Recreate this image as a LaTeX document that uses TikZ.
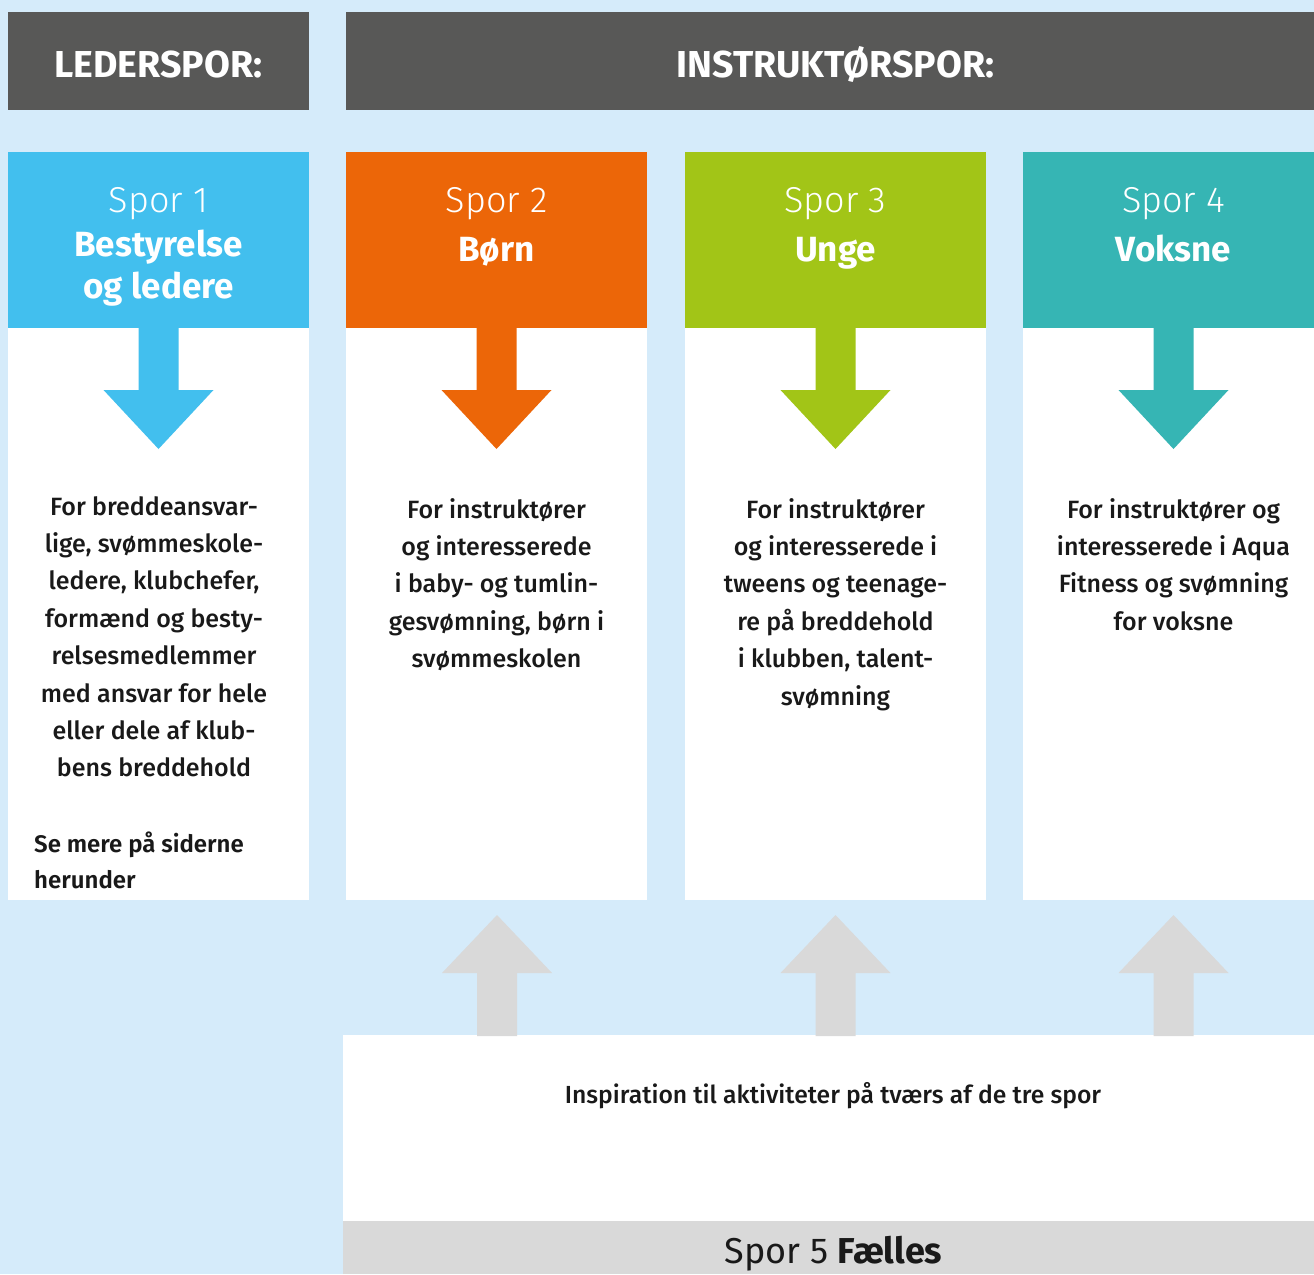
\documentclass[tikz,border=0pt]{standalone}
\usepackage{fontspec}
\setmainfont{Fira Sans}
\newfontfamily\flight{Fira Sans Light}
\newfontfamily\fmed{Fira Sans Medium}
\newfontfamily\fsemi{Fira Sans SemiBold}
\newfontfamily\fbold{Fira Sans Bold}
\definecolor{bgblue}{HTML}{D5EBFA}
\definecolor{darkbar}{HTML}{585857}
\definecolor{c1}{HTML}{42BFEE}
\definecolor{c2}{HTML}{EC6608}
\definecolor{c3}{HTML}{A2C517}
\definecolor{c4}{HTML}{36B5B4}
\definecolor{arrgray}{HTML}{D9D9D9}
\tikzset{
  bar/.style={text=white,anchor=base,font=\fbold\fontsize{37.5}{40}\selectfont},
  sporlbl/.style={text=white,anchor=base,font=\flight\fontsize{36}{40}\selectfont},
  sporname/.style={text=white,anchor=base,font=\fbold\fontsize{35}{40}\selectfont},
  bodyline/.style={text=black!90,anchor=base,inner sep=0pt,font=\fmed\fontsize{25}{30}\selectfont},
  seemore/.style={text=black!90,anchor=base west,inner sep=0pt,font=\fsemi\fontsize{24}{30}\selectfont},
}
\begin{document}
\begin{tikzpicture}[x=1pt,y=-1pt]
\fill[bgblue] (0,0) rectangle (1314,1274);
\useasboundingbox (0,0) rectangle (1314,1274);
% top bars
\fill[darkbar] (8,12) rectangle (309,110);
\fill[darkbar] (346,12) rectangle (1314,110);
\node[bar] (lederspor) at (158.5,77) {LEDERSPOR:};
\node[bar] (instrspor) at (835.5,77) {INSTRUKTØRSPOR:};
% columns
\foreach \x/\c [count=\i] in {8/c1,346/c2,685/c3,1023/c4}{
  \fill[white] (\x,328) rectangle ({min(\x+301,1314)},900);
  \fill[\c] (\x,152) rectangle ({min(\x+301,1314)},328);
  \pgfmathsetmacro\cx{\x+150.5}
  \fill[\c] (\cx-20,327) -- (\cx+20,327) -- (\cx+20,390) -- (\cx+55,390) -- (\cx,449)
     -- (\cx-55,390) -- (\cx-20,390) -- cycle;
  \node[sporlbl] (spor\i) at (\cx,212) {Spor \i};
}
\node[sporname] (n1a) at (158.5,256) {Bestyrelse};
\node[sporname] (n1b) at (158.5,298) {og ledere};
\node[sporname] (n2) at (496.5,261) {Børn};
\node[sporname] (n3) at (835.5,261) {Unge};
\node[sporname] (n4) at (1173.5,261) {Voksne};
% body texts
\foreach \t [count=\i] in {{For breddeansvar-},{lige, svømmeskole-},{ledere, klubchefer,},{formænd og besty-},{relsesmedlemmer},{med ansvar for hele},{eller dele af klub-},{bens breddehold}}{
  \node[bodyline] (b1l\i) at (154,{515+37.4*(\i-1)}) {\t};
}
\foreach \t [count=\i] in {{For instruktører},{og interesserede},{i baby- og tumlin-},{gesvømning, børn i},{svømmeskolen}}{
  \node[bodyline] (b2l\i) at (496.5,{518+37.4*(\i-1)}) {\t};
}
\foreach \t [count=\i] in {{For instruktører},{og interesserede i},{tweens og teenage-},{re på breddehold},{i klubben, talent-},{svømning}}{
  \node[bodyline] (b3l\i) at (835.5,{518+37.4*(\i-1)}) {\t};
}
\foreach \t [count=\i] in {{For instruktører og},{interesserede i Aqua},{Fitness og svømning},{for voksne}}{
  \node[bodyline] (b4l\i) at (1173.5,{518+37.4*(\i-1)}) {\t};
}
\node[seemore] (se1) at (34,852) {Se mere på siderne};
\node[seemore] (se2) at (34,888) {herunder};
% bottom panel
\fill[white] (343,1035) rectangle (1314,1221);
\fill[arrgray] (343,1221) rectangle (1314,1274);
\foreach \cx in {497,835.5,1173.5}{
  \fill[arrgray] (\cx-20,1036) -- (\cx-20,973) -- (\cx-55,973) -- (\cx,915) -- (\cx+55,973)
     -- (\cx+20,973) -- (\cx+20,1036) -- cycle;
}
\node[bodyline,font=\fmed\fontsize{24.7}{30}\selectfont] (insp) at (833,1103) {Inspiration til aktiviteter på tværs af de tre spor};
\node[anchor=base,inner sep=0pt,text=black!90,font=\fontsize{36}{40}\selectfont] (spor5) at (833.5,1263) {Spor 5 {\fbold Fælles}};
\end{tikzpicture}
\end{document}
